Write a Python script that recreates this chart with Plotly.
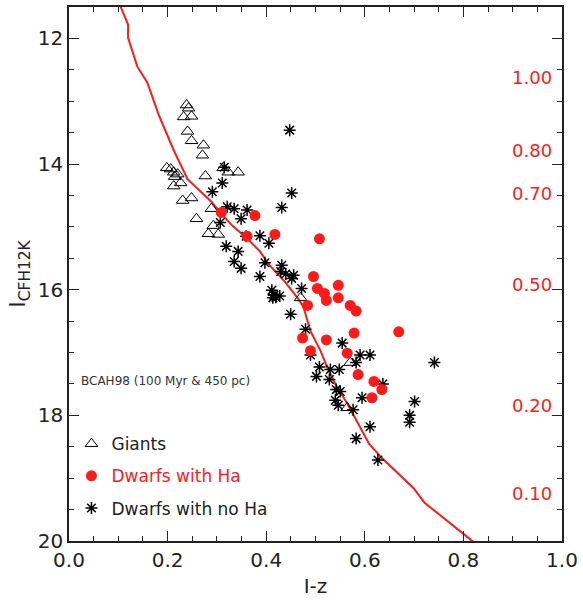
import plotly.graph_objects as go

# Giants (open triangles)
giants_iz = [0.2385, 0.2425, 0.2325, 0.2486, 0.2405, 0.2486, 0.2727, 0.2707,
             0.1983, 0.2063, 0.2124, 0.2204, 0.2144, 0.2264, 0.2124, 0.2767,
             0.3129, 0.3230, 0.3431, 0.2486, 0.2305, 0.2888, 0.2586, 0.2928,
             0.2827, 0.3028, 0.4698, 0.5703, 0.5643]
giants_i = [13.06, 13.11, 13.25, 13.24, 13.48, 13.63, 13.70, 13.86,
            14.06, 14.08, 14.13, 14.16, 14.20, 14.30, 14.35, 14.19,
            14.06, 14.13, 14.13, 14.54, 14.58, 14.71, 14.87, 14.98,
            15.11, 15.12, 16.13, 17.16, 17.88]

# Dwarfs with H-alpha emission (filled red circles)
ha_iz = [0.3089, 0.3772, 0.3612, 0.4175, 0.5080, 0.4959, 0.5039, 0.5180,
         0.5220, 0.5462, 0.5462, 0.5703, 0.5824, 0.4838, 0.4738, 0.5220,
         0.5783, 0.6688, 0.4898, 0.5643, 0.5864, 0.6185, 0.6346, 0.6145]
ha_i = [14.77, 14.82, 15.15, 15.12, 15.19, 15.79, 15.98, 16.06,
        16.17, 15.93, 16.13, 16.25, 16.34, 16.25, 16.77, 16.80,
        16.69, 16.67, 16.97, 17.01, 17.35, 17.46, 17.59, 17.72]

# Dwarfs without H-alpha (asterisks)
noha_iz = [0.4476, 0.3149, 0.3109, 0.2908, 0.4517, 0.4315, 0.3209, 0.3350,
           0.3612, 0.3491, 0.3069, 0.3591, 0.3873, 0.4054, 0.3189, 0.3431,
           0.3350, 0.3491, 0.3974, 0.4315, 0.4295, 0.4396, 0.4557, 0.4517,
           0.3873, 0.4718, 0.4114, 0.4155, 0.4195, 0.4134, 0.4275, 0.4496,
           0.4798, 0.4898, 0.5542, 0.5904, 0.6105, 0.5824, 0.5080, 0.5019,
           0.5301, 0.5482, 0.5281, 0.5421, 0.5502, 0.5401, 0.5462, 0.5763,
           0.5944, 0.6367, 0.7412, 0.7010, 0.6909, 0.6909, 0.6105, 0.5824,
           0.6266]
noha_i = [13.46, 14.05, 14.30, 14.44, 14.46, 14.69, 14.68, 14.71,
          14.73, 14.87, 14.93, 15.15, 15.14, 15.26, 15.31, 15.39,
          15.55, 15.66, 15.57, 15.61, 15.71, 15.75, 15.77, 15.82,
          15.79, 15.98, 16.01, 16.09, 16.12, 16.13, 16.10, 16.39,
          16.63, 17.04, 16.85, 17.04, 17.04, 17.16, 17.23, 17.38,
          17.27, 17.27, 17.43, 17.59, 17.62, 17.76, 17.84, 17.91,
          17.72, 17.50, 17.16, 17.78, 18.00, 18.11, 18.18, 18.37,
          18.71]

# BCAH98 isochrone, 100 Myr at 450 pc
iso_iz = [0.1007, 0.1198, 0.1198, 0.1386, 0.1587, 0.1822, 0.2124, 0.2405,
          0.2888, 0.3089, 0.3310, 0.3591, 0.3873, 0.4034, 0.4376, 0.4637,
          0.4758, 0.4898, 0.5100, 0.5240, 0.5401, 0.5643, 0.5864, 0.6085,
          0.6346, 0.6708, 0.6990, 0.7211, 0.7593, 0.8196]
iso_i = [11.42, 11.78, 11.99, 12.45, 12.70, 13.22, 13.78, 14.24,
         14.60, 14.79, 14.98, 15.17, 15.39, 15.58, 15.87, 16.13,
         16.28, 16.66, 16.97, 17.24, 17.50, 17.81, 18.13, 18.45,
         18.68, 18.95, 19.16, 19.39, 19.63, 20.01]

# Stellar masses (Msun) marked along the isochrone, with their I magnitudes
mass_labels = ["1.00", "0.80", "0.70", "0.50", "0.20", "0.10"]
mass_i = [12.62, 13.79, 14.47, 15.91, 17.84, 19.25]

FONT = "DejaVu Sans"
RED = "#ff1a1a"

fig = go.Figure()

fig.add_trace(go.Scatter(
    x=iso_iz, y=iso_i, mode="lines", line=dict(color=RED, width=2),
    showlegend=False, hoverinfo="skip"))

fig.add_trace(go.Scatter(
    x=giants_iz, y=giants_i, mode="markers", name="Giants",
    legendgroup="g", legendrank=1,
    marker=dict(symbol="triangle-up-open", size=11, color="black",
                line=dict(width=1, color="black"))))

fig.add_trace(go.Scatter(
    x=noha_iz, y=noha_i, mode="markers", name="Dwarfs with no Ha",
    legendgroup="n", legendrank=3,
    marker=dict(symbol="asterisk-open", size=10, color="black",
                line=dict(width=1.5, color="black"))))

fig.add_trace(go.Scatter(
    x=ha_iz, y=ha_i, mode="markers",
    name=f"<span style='color:{RED}'>Dwarfs with Ha</span>",
    legendgroup="h", legendrank=2,
    marker=dict(symbol="circle", size=11, color=RED)))

for lab, yi in zip(mass_labels, mass_i):
    fig.add_annotation(x=0.983, y=yi, text=lab, showarrow=False,
                       xanchor="right", yanchor="middle",
                       font=dict(family=FONT, size=18, color=RED))

fig.add_annotation(x=0.02, y=17.46, text="BCAH98 (100 Myr & 450 pc)",
                   showarrow=False, xanchor="left", yanchor="middle",
                   font=dict(family=FONT, size=12, color="#333333"))

axis_common = dict(
    showgrid=False, zeroline=False, showline=True, linecolor="#222222",
    linewidth=1.5, mirror="allticks", ticks="inside", ticklen=10,
    tickwidth=1, tickcolor="#222222",
    tickfont=dict(family=FONT, size=20, color="#222222"),
)

fig.update_xaxes(
    range=[0.0, 1.0], dtick=0.2, tickformat=".1f",
    minor=dict(dtick=0.05, ticks="inside", ticklen=5, tickcolor="#222222"),
    title=dict(text="I-z", font=dict(family=FONT, size=20, color="#222222"),
               standoff=8),
    **axis_common)

fig.update_yaxes(
    range=[20, 11.5], dtick=2, tick0=12,
    minor=dict(dtick=0.5, ticks="inside", ticklen=5, tickcolor="#222222"),
    title=dict(text="I<sub>CFH12K</sub>",
               font=dict(family=FONT, size=22, color="#222222"), standoff=6),
    **axis_common)

fig.update_layout(
    width=583, height=601,
    margin=dict(l=69, r=16, t=5, b=60),
    paper_bgcolor="white", plot_bgcolor="white",
    showlegend=True,
    legend=dict(x=0.005, y=0.215, xanchor="left", yanchor="top",
                bgcolor="rgba(0,0,0,0)", tracegroupgap=7,
                font=dict(family=FONT, size=17, color="#222222")),
)

fig.write_html("out.html")
